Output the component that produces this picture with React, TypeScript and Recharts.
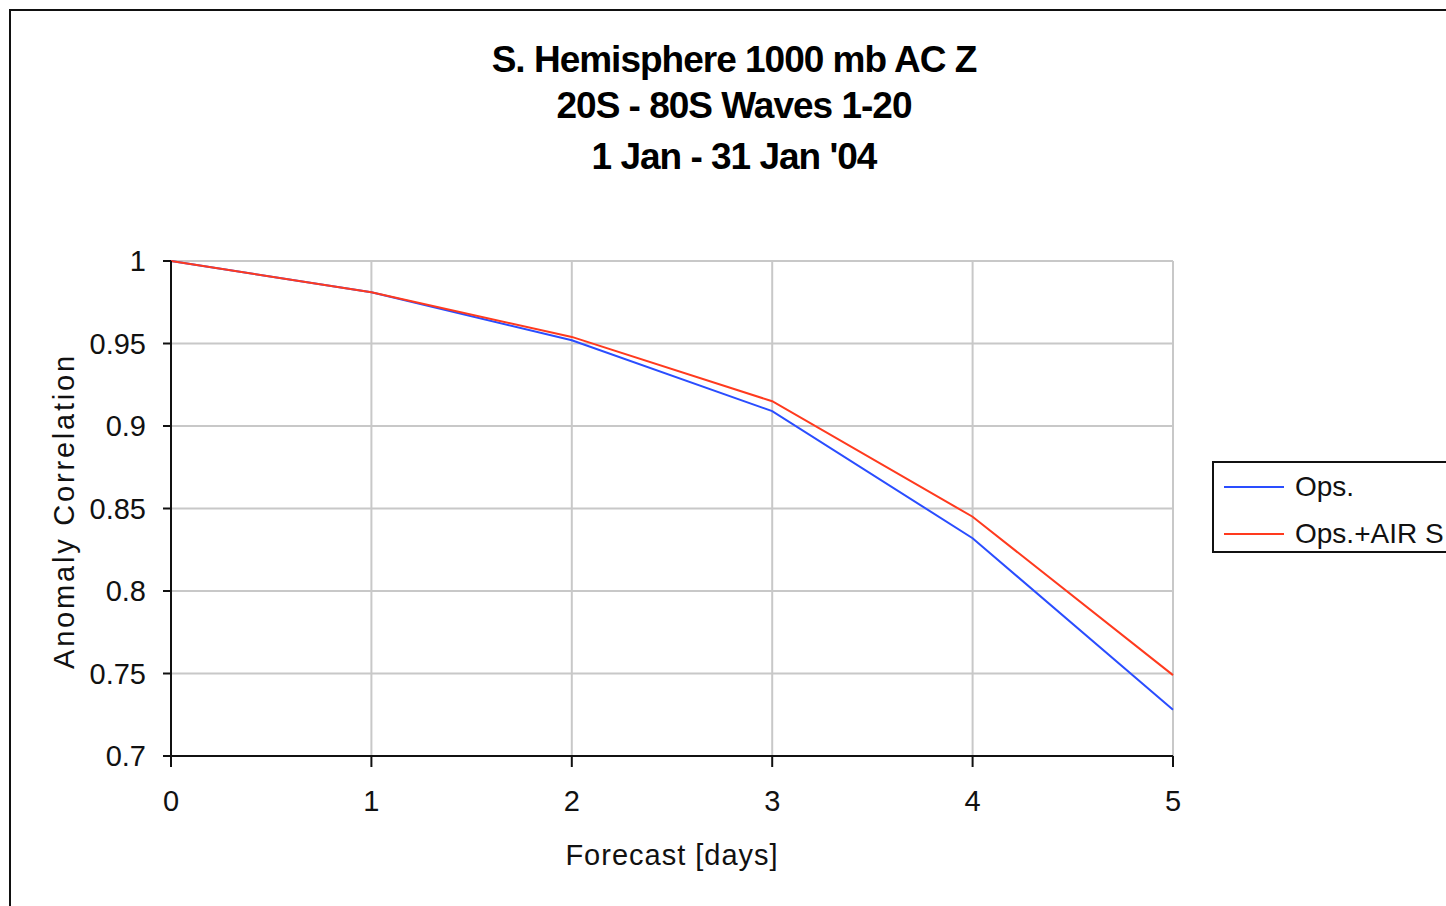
import React from 'react';
import { LineChart, Line, XAxis, YAxis, CartesianGrid } from 'recharts';

const days = [0, 1, 2, 3, 4, 5];
const opsValues = [1.0, 0.981, 0.952, 0.909, 0.832, 0.728];
const airsValues = [1.0, 0.981, 0.954, 0.915, 0.845, 0.749];
const seriesNames = ['Ops.', 'Ops.+AIR S'];
const seriesColors = ['#2a4dff', '#ff3a1e'];
const xTicks = [0, 1, 2, 3, 4, 5];
const yTicks = [0.7, 0.75, 0.8, 0.85, 0.9, 0.95, 1];
const titleLines = ['S. Hemisphere 1000 mb AC Z', '20S - 80S Waves 1-20', "1 Jan - 31 Jan '04"];

const data = days.map((d, i) => ({ day: d, ops: opsValues[i], airs: airsValues[i] }));

const FONT = '"Liberation Sans", Arial, sans-serif';

export default function App() {
  const yAxisW = 60;
  return (
    <div style={{ position: 'absolute', left: 0, top: 0, width: 1446, height: 906, overflow: 'hidden', background: '#fff', fontFamily: FONT }}>
      <div style={{ position: 'absolute', left: 9, top: 9, width: 1446, height: 2, background: '#111' }} />
      <div style={{ position: 'absolute', left: 9, top: 9, width: 2, height: 906, background: '#111' }} />
      {titleLines.map((t, i) => (
        <div key={i} style={{ position: 'absolute', left: 334, width: 800, top: [60, 106, 157][i] - 22, textAlign: 'center', fontSize: 37, fontWeight: 'bold', lineHeight: '44px', letterSpacing: -1, color: '#000' }}>{t}</div>
      ))}
      <div style={{ position: 'absolute', left: 0, top: 0 }}>
        <LineChart width={1446} height={906} data={data} margin={{ top: 261, right: 273, bottom: 150 - 30, left: 171 - yAxisW }}>
          <CartesianGrid stroke="#c8c8c8" strokeWidth={2} horizontalValues={yTicks} verticalValues={xTicks} />
          <XAxis dataKey="day" type="number" domain={[0, 5]} ticks={xTicks} height={30} interval={0}
            axisLine={{ stroke: '#111', strokeWidth: 2 }} tickLine={{ stroke: '#111', strokeWidth: 2 }} tickSize={11} tickMargin={23}
            tick={{ fill: '#111', fontSize: 29, fontFamily: FONT }} />
          <YAxis type="number" domain={[0.7, 1]} ticks={yTicks} width={yAxisW} interval={0}
            axisLine={{ stroke: '#111', strokeWidth: 2 }} tickLine={{ stroke: '#111', strokeWidth: 2 }} tickSize={8} tickMargin={17}
            tick={{ fill: '#111', fontSize: 29, fontFamily: FONT }} />
          <Line type="linear" dataKey="ops" name={seriesNames[0]} stroke={seriesColors[0]} strokeWidth={2} dot={false} isAnimationActive={false} />
          <Line type="linear" dataKey="airs" name={seriesNames[1]} stroke={seriesColors[1]} strokeWidth={2} dot={false} isAnimationActive={false} />
        </LineChart>
      </div>
      <div style={{ position: 'absolute', left: 64, top: 511, transform: 'translate(-50%, -50%) rotate(-90deg)', whiteSpace: 'nowrap', fontSize: 29, letterSpacing: 2.8, color: '#111' }}>Anomaly Correlation</div>
      <div style={{ position: 'absolute', left: 672, top: 855, transform: 'translate(-50%, -50%)', whiteSpace: 'nowrap', fontSize: 29, letterSpacing: 1, color: '#111' }}>Forecast [days]</div>
      <div style={{ position: 'absolute', left: 1212, top: 461, width: 300, height: 88, border: '2px solid #111', background: '#fff' }}>
        {seriesNames.map((n, i) => (
          <div key={n} style={{ position: 'absolute', left: 10, top: [24, 71][i] - 18, height: 36, display: 'flex', alignItems: 'center' }}>
            <div style={{ width: 60, height: 2, background: seriesColors[i] }} />
            <span style={{ marginLeft: 11, fontSize: 28, color: '#111' }}>{n}</span>
          </div>
        ))}
      </div>
    </div>
  );
}
